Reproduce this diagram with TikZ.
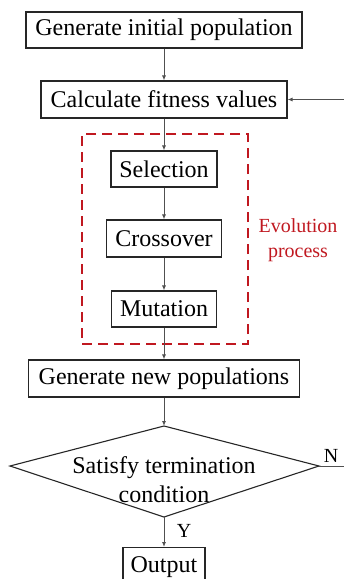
\documentclass[tikz,border=0pt]{standalone}
\usepackage{fontspec}
\setmainfont{Liberation Serif}
\usetikzlibrary{arrows.meta}
\definecolor{evored}{RGB}{192,24,32}
\definecolor{linegray}{RGB}{80,80,80}
\begin{document}
\begin{tikzpicture}[x=1pt,y=-1pt,
  box/.style={draw=black!85, line width=1.1pt, inner sep=0pt, font=\fontsize{24}{29}\selectfont},
  conn/.style={draw=linegray, line width=0.9pt, -{Latex[length=5pt,width=4pt]}},
  lbl/.style={font=\fontsize{20}{25}\selectfont, inner sep=0pt}]
\useasboundingbox (0,0) rectangle (344,579);
\node[box, minimum width=276pt, minimum height=36pt] (b1) at (164,30) {Generate initial population};
\node[box, minimum width=246pt, minimum height=37pt] (b2) at (164,99.5) {Calculate fitness values};
\node[box, minimum width=106pt, minimum height=36pt] (sel) at (164,169) {Selection};
\node[box, minimum width=115pt, minimum height=37pt] (cro) at (164,238.5) {Crossover};
\node[box, minimum width=105pt, minimum height=36pt] (mut) at (164,309) {Mutation};
\node[box, minimum width=271pt, minimum height=37pt] (gen) at (164,378.5) {Generate new populations};
\node[box, minimum width=82pt, minimum height=42pt, anchor=north, text depth=8pt] (out) at (164,547) {Output};
% dashed evolution frame
\node[draw=evored, line width=2.4pt, dash pattern=on 10pt off 6pt, minimum width=166pt, minimum height=210pt, inner sep=0pt] (evo) at (165,239) {};
\node[lbl, text=evored, align=center] (evolbl) at (298,240) {Evolution\\process};
% decision diamond
\coordinate (dT) at (164,426);
\coordinate (dR) at (319,466);
\coordinate (dB) at (164,517);
\coordinate (dL) at (10,466);
\draw[draw=black!85, line width=1.1pt] (dT) -- (dR) -- (dB) -- (dL) -- cycle;
\node[font=\fontsize{24}{29}\selectfont, align=center, inner sep=0pt] (dtext) at (164,480) {Satisfy termination\\condition};
% connectors
\draw[conn] (b1) -- (b2);
\draw[conn] (b2) -- (sel);
\draw[conn] (sel) -- (cro);
\draw[conn] (cro) -- (mut);
\draw[conn] (mut) -- (gen);
\draw[conn] (gen) -- (dT);
\draw[conn] (dB) -- (out);
\coordinate (loopR) at (352,466);
\coordinate (loopT) at (352,99.5);
\draw[conn] (dR) -- (loopR) -- (loopT) -- (b2.east);
\node[lbl] (nlbl) at (331,456) {N};
\node[lbl] (ylbl) at (184,531) {Y};
\end{tikzpicture}
\end{document}
